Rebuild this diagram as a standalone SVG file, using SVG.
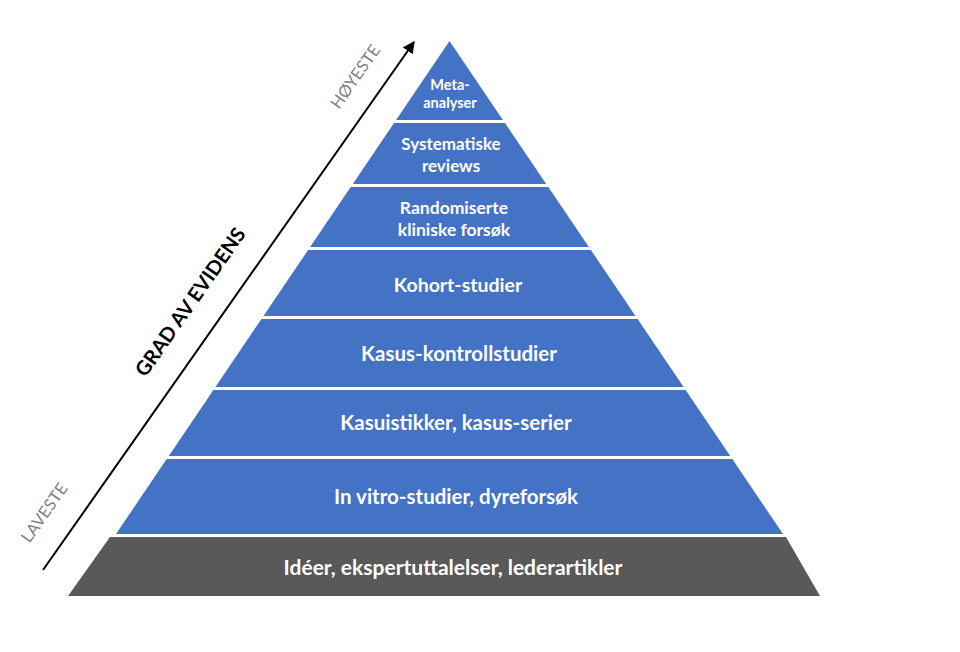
<svg xmlns="http://www.w3.org/2000/svg" width="960" height="652" viewBox="0 0 960 652">
<defs>
<style>
.band{fill:#4472C4}
.base{fill:#595959}
.lbl{font-family:Lato,"Liberation Sans",sans-serif;font-weight:bold;fill:#ffffff;text-anchor:middle}
.side{font-family:Lato,"Liberation Sans",sans-serif;fill:#808080;font-size:16.5px;text-anchor:middle}
.axis{font-family:Lato,"Liberation Sans",sans-serif;font-weight:bold;fill:#000000;font-size:20px;text-anchor:middle}
</style>
<marker id="ah" viewBox="0 0 10 10" refX="9" refY="5" markerWidth="6" markerHeight="6" orient="auto" markerUnits="strokeWidth">
<path d="M0,0 L10,5 L0,10 z" fill="#000000"/>
</marker>
</defs>
<rect width="960" height="652" fill="#ffffff"/>
<g id="connectors">
<line x1="43" y1="570" x2="414" y2="42" stroke="#000000" stroke-width="2" marker-end="url(#ah)"/>
</g>
<g id="axis-labels">
<text class="axis" transform="translate(196,306) rotate(-55)">GRAD AV EVIDENS</text>
<text class="side" transform="translate(360,80) rotate(-55)">HØYESTE</text>
<text class="side" transform="translate(49,516) rotate(-55)">LAVESTE</text>
</g>
<g id="meta">
<polygon class="band" points="449.5,41 502.9,120 396.1,120"/>
<text class="lbl" font-size="14.5" x="450" y="90">Meta-</text>
<text class="lbl" font-size="14.5" x="450" y="108">analyser</text>
</g>
<g id="systematiske">
<polygon class="band" points="394,123 505,123 546.2,184 352.8,184"/>
<text class="lbl" font-size="17" x="451" y="150">Systematiske</text>
<text class="lbl" font-size="17" x="451" y="172">reviews</text>
</g>
<g id="randomiserte">
<polygon class="band" points="350.7,187 548.3,187 588.9,247 310.1,247"/>
<text class="lbl" font-size="17.5" x="454" y="214">Randomiserte</text>
<text class="lbl" font-size="17.5" x="454" y="236">kliniske forsøk</text>
</g>
<g id="kohort">
<polygon class="band" points="308.1,250 590.9,250 635.5,316 263.5,316"/>
<text class="lbl" font-size="19.5" x="458" y="292">Kohort-studier</text>
</g>
<g id="kasus-kontroll">
<polygon class="band" points="261.4,319 637.6,319 683.6,387 215.4,387"/>
<text class="lbl" font-size="20.5" x="459" y="361">Kasus-kontrollstudier</text>
</g>
<g id="kasuistikker">
<polygon class="band" points="213.4,390 685.6,390 730.2,456 168.8,456"/>
<text class="lbl" font-size="20.5" x="456" y="430">Kasuistikker, kasus-serier</text>
</g>
<g id="in-vitro">
<polygon class="band" points="166.7,459 732.3,459 783,534 116,534"/>
<text class="lbl" font-size="20.5" x="456" y="504">In vitro-studier, dyreforsøk</text>
</g>
<g id="ideer">
<polygon class="base" points="110,537 786,537 820,596 68,596"/>
<text class="lbl" font-size="21" x="453" y="575">Idéer, ekspertuttalelser, lederartikler</text>
</g>
</svg>
